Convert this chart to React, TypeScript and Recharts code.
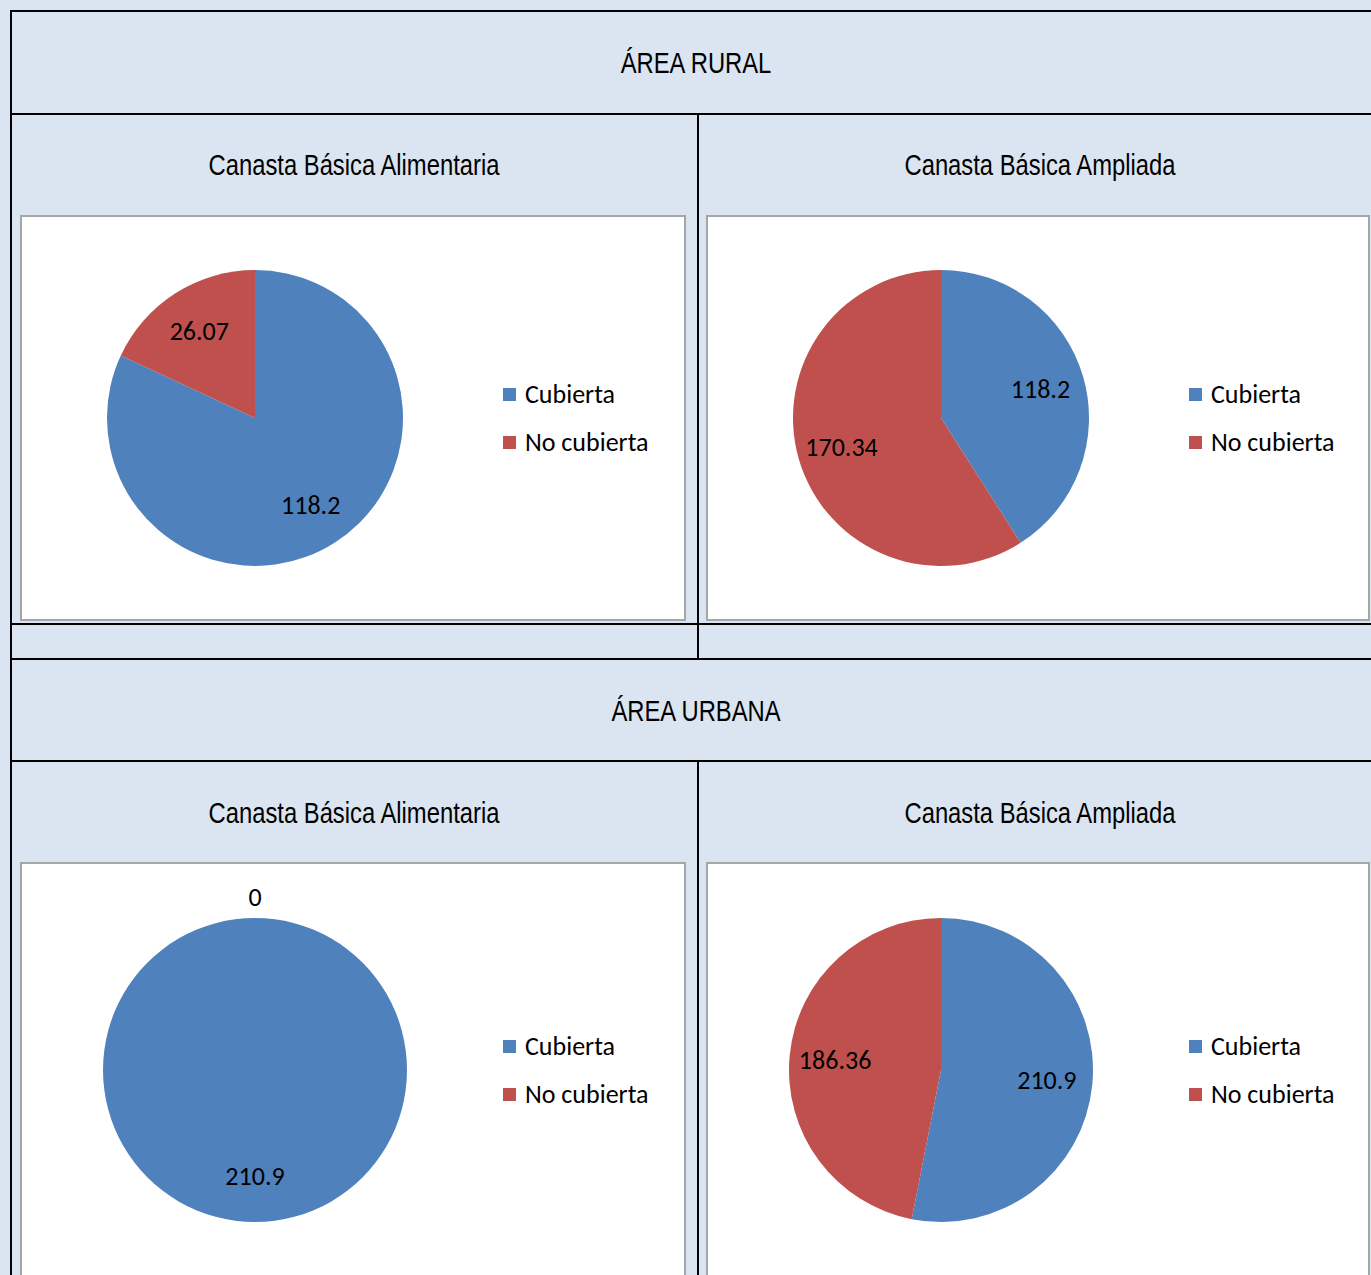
import React from 'react'
import { PieChart, Pie, Cell, Legend } from 'recharts'

const categories = ['Cubierta', 'No cubierta']
const sliceColors = ['#4f81bd', '#c0504d']

const ruralAlimentaria = [118.2, 26.07]
const ruralAmpliada = [118.2, 170.34]
const urbanaAlimentaria = [210.9, 0]
const urbanaAmpliada = [210.9, 186.36]

const areaTitles = ['ÁREA RURAL', 'ÁREA URBANA']
const basketTitles = ['Canasta Básica Alimentaria', 'Canasta Básica Ampliada']

const BG = '#dbe5f1'
const narrow = '"Liberation Sans", Arial, sans-serif'
const calibri = 'Carlito, Calibri, Lato, "Noto Sans", sans-serif'
const RAD = Math.PI / 180

function toRows(values: number[]) {
  return categories.map((name, i) => ({ name, value: values[i], fill: sliceColors[i] }))
}

function renderLabel(props: any) {
  const { cx, cy, midAngle, outerRadius, value } = props
  const r = value === 0 ? outerRadius + 21 : outerRadius * 0.7
  const x = cx + r * Math.cos(-midAngle * RAD)
  const y = cy + r * Math.sin(-midAngle * RAD)
  return (
    <text x={x} y={y} textAnchor="middle" dominantBaseline="central" fill="#000" fontSize={26} fontFamily={calibri}>
      {value}
    </text>
  )
}

function LegendBox() {
  return (
    <div style={{ fontFamily: calibri, fontSize: 26, color: '#000' }}>
      {categories.map((c, i) => (
        <div key={c} style={{ display: 'flex', alignItems: 'center', height: 48, whiteSpace: 'nowrap' }}>
          <span style={{ display: 'inline-block', width: 13, height: 13, background: sliceColors[i], marginRight: 9 }} />
          {c}
        </div>
      ))}
    </div>
  )
}

function PieBox({ values, left, top, width, height, cy, radius }: any) {
  return (
    <div style={{ position: 'absolute', left, top, width, height, background: '#fff', border: '2px solid #a6a6a6', boxSizing: 'border-box' }}>
      <PieChart width={width - 4} height={height - 4} margin={{ top: 0, right: 0, bottom: 0, left: 0 }}>
        <Pie
          data={toRows(values)}
          dataKey="value"
          nameKey="name"
          cx={233}
          cy={cy}
          outerRadius={radius}
          startAngle={90}
          endAngle={-270}
          stroke="none"
          label={renderLabel}
          labelLine={false}
          isAnimationActive={false}
        >
          {values.map((_: number, i: number) => (
            <Cell key={i} fill={sliceColors[i]} />
          ))}
        </Pie>
        <Legend content={() => <LegendBox />} wrapperStyle={{ position: 'absolute', left: 481, top: cy - 48, width: 180 }} />
      </PieChart>
    </div>
  )
}

function HLine({ y }: { y: number }) {
  return <div style={{ position: 'absolute', left: 10, top: y, width: 1400, height: 2, background: '#000' }} />
}

function VLine({ x, y1, y2 }: { x: number; y1: number; y2: number }) {
  return <div style={{ position: 'absolute', left: x, top: y1, width: 2, height: y2 - y1, background: '#000' }} />
}

function Title({ text, cx, cy, size }: { text: string; cx: number; cy: number; size: number }) {
  return (
    <div
      style={{
        position: 'absolute',
        left: cx - 300,
        top: cy - 20,
        width: 600,
        height: 40,
        lineHeight: '40px',
        textAlign: 'center',
        fontFamily: narrow,
        fontSize: size,
        color: '#000',
        transform: 'scaleX(0.82)',
        transformOrigin: 'center',
      }}
    >
      {text}
    </div>
  )
}

export default function App() {
  return (
    <div style={{ position: 'absolute', left: 0, top: 0, width: 1371, height: 1275, overflow: 'hidden', background: BG }}>
      <HLine y={10} />
      <HLine y={113} />
      <HLine y={623} />
      <HLine y={658} />
      <HLine y={760} />
      <VLine x={10} y1={10} y2={1275} />
      <VLine x={697} y1={113} y2={658} />
      <VLine x={697} y1={760} y2={1275} />

      <Title text={areaTitles[0]} cx={696} cy={63} size={29} />
      <Title text={basketTitles[0]} cx={354} cy={165} size={29} />
      <Title text={basketTitles[1]} cx={1040} cy={165} size={29} />
      <Title text={areaTitles[1]} cx={696} cy={711} size={29} />
      <Title text={basketTitles[0]} cx={354} cy={813} size={29} />
      <Title text={basketTitles[1]} cx={1040} cy={813} size={29} />

      <PieBox values={ruralAlimentaria} left={20} top={215} width={666} height={406} cy={201} radius={148} />
      <PieBox values={ruralAmpliada} left={706} top={215} width={664} height={406} cy={201} radius={148} />
      <PieBox values={urbanaAlimentaria} left={20} top={862} width={666} height={430} cy={206} radius={152} />
      <PieBox values={urbanaAmpliada} left={706} top={862} width={664} height={430} cy={206} radius={152} />
    </div>
  )
}
